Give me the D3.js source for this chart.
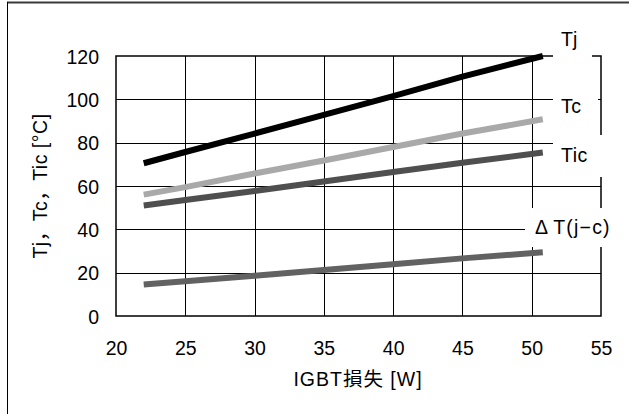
<!DOCTYPE html>
<html>
<head>
<meta charset="utf-8">
<script src="https://cdn.jsdelivr.net/npm/d3@7"></script>
<style>
  html, body { margin: 0; padding: 0; background: #fff; }
  svg { display: block; }
  text { font-family: "Liberation Sans", Arial, "Noto Sans CJK JP", sans-serif; fill: #000; }
</style>
</head>
<body>
<svg id="chart" width="629" height="414"></svg>
<script>
// IGBT loss [W] at which temperatures were evaluated
const lossW = [22, 25, 30, 35, 40, 45, 50.8];
// Temperatures [°C]
const tj   = [70.5, 75.7, 84.2, 92.8, 101.5, 110.5, 120];
const tc   = [56, 59.5, 65.8, 71.8, 78, 84.2, 90.8];
const tic  = [51, 53.5, 57.7, 62.1, 66.5, 70.7, 75.5];
const dTjc = [14.5, 16, 18.6, 21.2, 23.9, 26.6, 29.4];

const xTicks = [20, 25, 30, 35, 40, 45, 50, 55];
const yTicks = [0, 20, 40, 60, 80, 100, 120];

// series labels; the ΔT label is split so the Δ gets a little room
const seriesNames = [["Tj"], ["Tc"], ["Tic"], ["Δ", "T(j−c)"]];

const FS = 19.5;
const svg = d3.select("#chart");

// outer frame
svg.append("line").attr("x1", 7).attr("x2", 629).attr("y1", 2.5).attr("y2", 2.5)
  .attr("stroke", "#3a3a3a").attr("stroke-width", 2);
svg.append("line").attr("x1", 7.5).attr("x2", 7.5).attr("y1", 2).attr("y2", 414)
  .attr("stroke", "#000").attr("stroke-width", 1);

const x = d3.scaleLinear().domain([20, 55]).range([116, 601]);
const y = d3.scaleLinear().domain([0, 120]).range([316, 56]);

// grid
const grid = svg.append("g");
grid.selectAll(".vg").data(xTicks.slice(1, -1)).join("line")
  .attr("x1", d => Math.round(x(d)) + 0.5).attr("x2", d => Math.round(x(d)) + 0.5)
  .attr("y1", y(120)).attr("y2", y(0))
  .attr("stroke", "#000").attr("stroke-width", 1);
grid.selectAll(".hg").data(yTicks.slice(1, -1)).join("line")
  .attr("x1", x(20)).attr("x2", x(55))
  .attr("y1", d => Math.round(y(d)) + 0.5).attr("y2", d => Math.round(y(d)) + 0.5)
  .attr("stroke", "#000").attr("stroke-width", 1);

// plot border
svg.append("rect")
  .attr("x", x(20)).attr("y", y(120))
  .attr("width", x(55) - x(20)).attr("height", y(0) - y(120))
  .attr("fill", "none").attr("stroke", "#000").attr("stroke-width", 1.5);

// tick labels via d3 axes (tick marks hidden)
const xAxis = d3.axisBottom(x).tickValues(xTicks).tickSize(0).tickPadding(0).tickFormat(d3.format("d"));
const gx = svg.append("g").attr("transform", `translate(0, ${y(0) + 32})`).call(xAxis);
gx.select(".domain").remove();
gx.selectAll("text").attr("font-size", FS).attr("fill", "#000")
  .attr("font-family", "Liberation Sans, Arial, sans-serif").attr("dy", "0.36em");

const yAxis = d3.axisLeft(y).tickValues(yTicks).tickSize(0).tickPadding(0).tickFormat(d3.format("d"));
const gy = svg.append("g").attr("transform", `translate(${x(20) - 17}, 0)`).call(yAxis);
gy.select(".domain").remove();
gy.selectAll("text").attr("font-size", FS).attr("fill", "#000")
  .attr("font-family", "Liberation Sans, Arial, sans-serif").attr("dy", "0.36em");

// series
const series = [
  { values: tj,   color: "#000000" },
  { values: tc,   color: "#a9a9a9" },
  { values: tic,  color: "#4f4f4f" },
  { values: dTjc, color: "#626262" }
];
const line = d3.line().x(d => x(d[0])).y(d => y(d[1]));
svg.append("g").selectAll("path").data(series).join("path")
  .attr("d", s => line(lossW.map((w, i) => [w, s.values[i]])))
  .attr("fill", "none").attr("stroke", s => s.color)
  .attr("stroke-width", 6).attr("stroke-linecap", "butt");

// label boxes (white backgrounds) and series labels
const labelBoxes = [
  { x0: 553, x1: 592, y0: 18, y1: 60, tx: 561, ty: 39, ls: 0 },
  { x0: 553, x1: 598, y0: 86, y1: 118, tx: 561, ty: 106, ls: 0.5 },
  { x0: 553, x1: 606, y0: 135, y1: 177, tx: 561, ty: 155, ls: 0.5 },
  { x0: 525, x1: 627, y0: 208, y1: 247, tx: 535, ty: 227, ls: 1.2 }
];
const lbl = svg.append("g");
lbl.selectAll("rect").data(labelBoxes).join("rect")
  .attr("x", d => d.x0).attr("y", d => d.y0)
  .attr("width", d => d.x1 - d.x0).attr("height", d => d.y1 - d.y0)
  .attr("fill", "#fff");
lbl.selectAll("text").data(labelBoxes).join("text")
  .attr("x", d => d.tx).attr("y", d => d.ty).attr("dy", "0.36em")
  .attr("font-size", FS).attr("letter-spacing", d => d.ls)
  .each(function (d, i) {
    const t = d3.select(this);
    seriesNames[i].forEach((part, k) => {
      t.append("tspan").attr("dx", k > 0 ? 4 : 0).text(part);
    });
  });

// axis titles
svg.append("text")
  .attr("x", 358).attr("y", 379).attr("dy", "0.36em")
  .attr("text-anchor", "middle").attr("font-size", FS).attr("letter-spacing", 1)
  .text("IGBT損失 [W]");
svg.append("text")
  .attr("transform", "translate(40, 186) rotate(-90)")
  .attr("dy", "0.36em")
  .attr("text-anchor", "middle").attr("font-size", FS).attr("letter-spacing", 0.5)
  .text("Tj，Tc，Tic [°C]");
</script>
</body>
</html>
